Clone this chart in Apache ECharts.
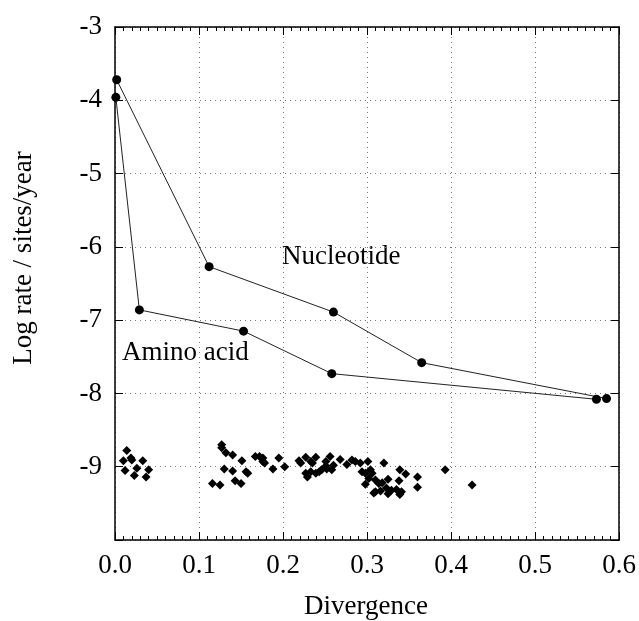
<!DOCTYPE html>
<html>
<head>
<meta charset="utf-8">
<script src="https://cdn.jsdelivr.net/npm/echarts@6/dist/echarts.min.js"></script>
<style>
  html, body { margin: 0; padding: 0; background: #fff; }
  #chart { width: 639px; height: 621px; }
</style>
</head>
<body>
<div id="chart"></div>
<script>
// data
var xTicks = [0.0, 0.1, 0.2, 0.3, 0.4, 0.5, 0.6];
var yTicks = [-3, -4, -5, -6, -7, -8, -9];

var nucleotideX = [0.002, 0.112, 0.260, 0.365, 0.585];
var nucleotideY = [-3.72, -6.27, -6.89, -7.58, -8.07];

var aminoX = [0.001, 0.029, 0.153, 0.258, 0.573];
var aminoY = [-3.96, -6.86, -7.15, -7.73, -8.08];

// small diamonds near -9
var scatterPts = [
    [0.014,-8.78],[0.010,-8.92],[0.019,-8.88],[0.020,-8.91],[0.033,-8.92],[0.012,-9.05],
    [0.026,-9.02],[0.040,-9.04],[0.023,-9.12],[0.037,-9.14],
    [0.127,-8.70],[0.127,-8.74],[0.132,-8.81],[0.140,-8.84],[0.151,-8.92],[0.130,-9.03],
    [0.140,-9.06],[0.156,-9.07],[0.158,-9.09],[0.143,-9.19],[0.150,-9.23],[0.116,-9.23],[0.125,-9.25],
    [0.167,-8.86],[0.172,-8.86],[0.176,-8.88],[0.176,-8.93],[0.178,-8.95],[0.195,-8.88],
    [0.188,-9.03],[0.202,-9.00],
    [0.219,-8.92],[0.221,-8.95],[0.227,-8.87],[0.233,-8.93],[0.235,-8.95],[0.239,-8.87],
    [0.251,-8.93],[0.251,-8.99],[0.256,-8.86],[0.227,-9.09],[0.229,-9.14],[0.233,-9.07],
    [0.239,-9.09],[0.243,-9.07],[0.246,-9.04],[0.252,-9.03],[0.260,-8.98],
    [0.268,-8.90],[0.276,-8.97],[0.282,-8.91],[0.286,-8.93],[0.292,-8.95],[0.301,-8.93],
    [0.258,-9.04],[0.294,-9.07],[0.298,-9.09],[0.304,-9.04],[0.306,-9.09],[0.302,-9.16],
    [0.310,-9.18],[0.298,-9.24],[0.314,-9.23],[0.318,-9.22],[0.320,-8.95],[0.325,-9.17],
    [0.339,-9.04],[0.346,-9.10],[0.338,-9.19],[0.310,-9.34],[0.316,-9.33],[0.308,-9.36],
    [0.323,-9.29],[0.329,-9.32],[0.325,-9.37],[0.335,-9.31],[0.341,-9.34],[0.339,-9.38],
    [0.360,-9.14],[0.360,-9.28],[0.393,-9.04],[0.425,-9.25]
];

function pairs(xs, ys) {
    var out = [];
    for (var i = 0; i < xs.length; i++) {
        out.push([xs[i], ys[i]]);
    }
    return out;
}

var FONT = "Liberation Serif";
var chart = echarts.init(document.getElementById("chart"));

var gridLine = { show: true, lineStyle: { color: "#777", type: [1, 4], width: 1 } };
var frame = { show: true, onZero: false, lineStyle: { color: "#000", width: 1.5 } };
var majorTick = { show: true, inside: true, length: 8, lineStyle: { color: "#000", width: 1 } };
var xMinor = { show: true, splitNumber: 10, length: 4, lineStyle: { color: "#000", width: 1 } };

var option = {
    backgroundColor: "#fff",
    animation: false,
    grid: { left: 115, right: 17, top: 27, bottom: 81 },
    xAxis: [
        {
            type: "value", min: 0, max: 0.6, interval: 0.1,
            axisLine: frame,
            axisTick: majorTick,
            minorTick: xMinor,
            splitLine: gridLine,
            axisLabel: {
                margin: 12, fontFamily: FONT, fontSize: 27, color: "#000",
                formatter: function (v) { return v.toFixed(1); }
            }
        },
        {
            type: "value", position: "top", min: 0, max: 0.6, interval: 0.1,
            axisLine: frame,
            axisTick: majorTick,
            minorTick: xMinor,
            splitLine: { show: false },
            axisLabel: { show: false }
        }
    ],
    yAxis: [
        {
            type: "value", min: -10, max: -3, interval: 1,
            axisLine: frame,
            axisTick: majorTick,
            splitLine: gridLine,
            axisLabel: {
                margin: 13, fontFamily: FONT, fontSize: 27, color: "#000",
                formatter: function (v) { return yTicks.indexOf(v) >= 0 ? String(v) : ""; }
            }
        },
        {
            type: "value", position: "right", min: -10, max: -3, interval: 1,
            axisLine: frame,
            axisTick: majorTick,
            splitLine: { show: false },
            axisLabel: { show: false }
        }
    ],
    series: [
        {
            name: "Nucleotide", type: "line",
            data: pairs(nucleotideX, nucleotideY),
            symbol: "circle", symbolSize: 9,
            itemStyle: { color: "#000" },
            lineStyle: { color: "#222", width: 1 }
        },
        {
            name: "Amino acid", type: "line",
            data: pairs(aminoX, aminoY),
            symbol: "circle", symbolSize: 9,
            itemStyle: { color: "#000" },
            lineStyle: { color: "#222", width: 1 }
        },
        {
            name: "rates", type: "scatter",
            data: scatterPts,
            symbol: "diamond", symbolSize: 9,
            itemStyle: { color: "#000", opacity: 1 }
        }
    ],
    graphic: [
        {
            type: "text", left: 282, top: 243,
            style: { text: "Nucleotide", font: "27px " + FONT, fill: "#000" }
        },
        {
            type: "text", left: 122, top: 339,
            style: { text: "Amino acid", font: "27px " + FONT, fill: "#000" }
        },
        {
            type: "text", x: 366, y: 607,
            style: { text: "Divergence", font: "27px " + FONT, fill: "#000",
                     align: "center", verticalAlign: "middle" }
        },
        {
            type: "text", x: 24, y: 258, rotation: Math.PI / 2,
            style: { text: "Log rate / sites/year", font: "27px " + FONT, fill: "#000",
                     align: "center", verticalAlign: "middle" }
        }
    ]
};

chart.setOption(option);
</script>
</body>
</html>
